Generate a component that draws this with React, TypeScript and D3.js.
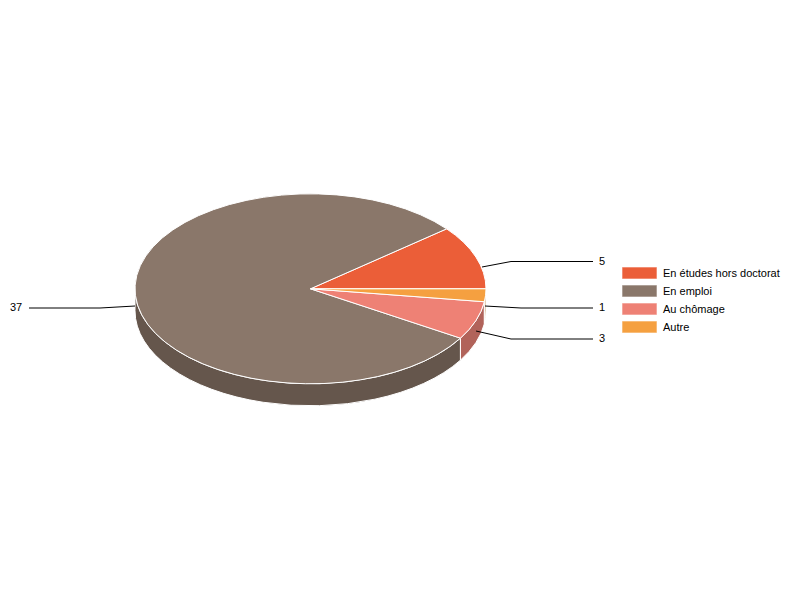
import React from "react";
import * as d3 from "d3";

const categories = ["En études hors doctorat", "En emploi", "Au chômage", "Autre"];
const values = [5, 37, 3, 1];
const topColors = ["#EB5E38", "#8A776A", "#EE8175", "#F5A040"];
const sideColors = ["#B04628", "#65564C", "#B1635A", "#C9A070"];

const cx = 310.5, cy = 288.8, rx = 175.5, ry = 95, depth = 22;
const lines = [
  { label: "5", pts: [[482, 267], [511, 261.5], [593, 261.5]], tx: 599, ty: 261, anchor: "start" },
  { label: "1", pts: [[485, 306], [521, 308], [593, 308]], tx: 599, ty: 307, anchor: "start" },
  { label: "3", pts: [[476, 331], [511, 339], [593, 339]], tx: 599, ty: 338, anchor: "start" },
  { label: "37", pts: [[135, 306], [100, 308], [29, 308]], tx: 10, ty: 307, anchor: "start" },
];

const pt = (a: number, dy = 0): [number, number] => [cx + rx * Math.cos(a), cy - ry * Math.sin(a) + dy];

function topPath(a0: number, a1: number) {
  const [x0, y0] = pt(a0), [x1, y1] = pt(a1);
  const large = a1 - a0 > Math.PI ? 1 : 0;
  return `M${cx},${cy}L${x0},${y0}A${rx},${ry} 0 ${large} 0 ${x1},${y1}Z`;
}

function sidePath(a0: number, a1: number) {
  const lo = Math.max(a0, Math.PI), hi = Math.min(a1, 2 * Math.PI);
  if (hi <= lo) return null;
  const [x0, y0] = pt(lo), [x1, y1] = pt(hi);
  return `M${x0},${y0}A${rx},${ry} 0 0 0 ${x1},${y1}L${x1},${y1 + depth}A${rx},${ry} 0 0 1 ${x0},${y0 + depth}Z`;
}

export default function App() {
  const arcs = d3.pie<number>().sort(null)(values);
  const color = d3.scaleOrdinal<number, string>().domain(d3.range(values.length)).range(topColors);
  const side = d3.scaleOrdinal<number, string>().domain(d3.range(values.length)).range(sideColors);
  const line = d3.line();
  const legendY = d3.scalePoint<string>().domain(categories).range([273, 327]);
  const font = "Arial, 'Liberation Sans', sans-serif";
  return (
    <svg width={800} height={600} style={{ position: "absolute", left: 0, top: 0 }} fontFamily={font} fontSize={11}>
      <rect width={800} height={600} fill="#fff" />
      {arcs.map((a) => {
        const d = sidePath(a.startAngle, a.endAngle);
        return d ? <path key={a.index} d={d} fill={side(a.index)} stroke="#fff" strokeWidth={1} /> : null;
      })}
      {arcs.map((a) => (
        <path key={a.index} d={topPath(a.startAngle, a.endAngle)} fill={color(a.index)} stroke="#fff" strokeWidth={1} />
      ))}
      {lines.map((l) => (
        <g key={l.label}>
          <path d={line(l.pts as [number, number][]) ?? ""} fill="none" stroke="#000" strokeWidth={1} />
          <text x={l.tx} y={l.ty} dy="0.35em" textAnchor={l.anchor as "start"} fill="#000">{l.label}</text>
        </g>
      ))}
      {categories.map((c, i) => (
        <g key={c}>
          <rect x={622} y={legendY(c)! - 6} width={35} height={12} fill={color(i)} stroke="#fff" strokeOpacity={0.6} strokeWidth={1} />
          <text x={663} y={legendY(c)!} dy="0.35em" fill="#000">{c}</text>
        </g>
      ))}
    </svg>
  );
}
